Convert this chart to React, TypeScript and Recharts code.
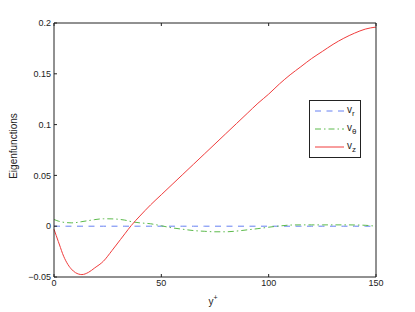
import React from "react";
import { LineChart, Line, XAxis, YAxis, Legend, Label } from "recharts";

// y+ positions
const yPlus = [
  0, 1, 2, 3, 4, 6, 8, 10, 13, 16, 19, 23, 27, 31, 33, 36, 40, 45, 50, 55, 60,
  65, 70, 75, 80, 85, 90, 95, 100, 105, 110, 115, 120, 125, 130, 135, 140, 145,
  150,
];

const vr = yPlus.map(() => 0);

const vtheta = [
  0.0066, 0.0058, 0.005, 0.0045, 0.004, 0.0035, 0.0033, 0.0035, 0.0045,
  0.0055, 0.0065, 0.0073, 0.0072, 0.0066, 0.006, 0.0045, 0.0033, 0.0024,
  0.0004, -0.0016, -0.003, -0.0043, -0.005, -0.0055, -0.0055, -0.0048,
  -0.0036, -0.0024, -0.001, 0.0002, 0.0011, 0.0013, 0.0013, 0.0013, 0.0013,
  0.0013, 0.0012, 0.0009, 0.0,
];

const vz = [
  -0.003, -0.009, -0.015, -0.021, -0.027, -0.036, -0.042, -0.0457, -0.0476,
  -0.0455, -0.041, -0.0345, -0.024, -0.013, -0.0075, 0.0007, 0.01, 0.021,
  0.031, 0.041, 0.051, 0.061, 0.071, 0.081, 0.091, 0.101, 0.111, 0.121, 0.13,
  0.14, 0.149, 0.157, 0.165, 0.172, 0.179, 0.185, 0.19, 0.194, 0.196,
];

const xTicks = [0, 50, 100, 150];
const yTicks = [-0.05, 0, 0.05, 0.1, 0.15, 0.2];

const data = yPlus.map((x, i) => ({ x, vr: vr[i], vtheta: vtheta[i], vz: vz[i] }));

const FONT = "'Liberation Sans', Arial, Helvetica, sans-serif";
const BLUE = "#6680f2";
const GREEN = "#5cba4c";
const RED = "#f03c3c";
const AXIS = "#222222";

const series = [
  { key: "vr", sub: "r", color: BLUE, dash: "6 5.5" },
  { key: "vtheta", sub: "θ", color: GREEN, dash: "6 3 1.5 3" },
  { key: "vz", sub: "z", color: RED, dash: undefined as string | undefined },
];

const fmtY = (v: number) => (v < 0 ? "\u2212" + String(-v) : String(v));

const LegendBox = () => (
  <svg width={53} height={59} style={{ display: "block" }}>
    <rect x={0.5} y={0.5} width={51} height={57} fill="#fff" stroke={AXIS} />
    {series.map((s, i) => {
      const y = 11 + i * 18;
      return (
        <g key={s.key}>
          <line x1={6} x2={35} y1={y} y2={y} stroke={s.color} strokeDasharray={s.dash} />
          <text x={38} y={y + 2} fontFamily={FONT} fontSize={10} fill="#222">
            v
            <tspan fontSize={8} dy={3}>
              {s.sub}
            </tspan>
          </text>
        </g>
      );
    })}
  </svg>
);

export default function App() {
  return (
    <div style={{ position: "absolute", left: 0, top: 0, background: "#fff" }}>
      <LineChart
        width={415}
        height={312}
        data={data}
        margin={{ top: 0, right: 0, bottom: 0, left: 0 }}
      >
        <XAxis
          xAxisId="b"
          dataKey="x"
          type="number"
          domain={[0, 150]}
          ticks={xTicks}
          height={35}
          tickSize={-3}
          tickMargin={6}
          stroke={AXIS}
          tick={{ fontSize: 9, fontFamily: FONT, fill: "#222" }}
        >
          <Label
            content={() => (
              <text x={213} y={305} textAnchor="middle" fontFamily={FONT} fontSize={10} fill="#222">
                y
                <tspan fontSize={7} dy={-5}>
                  +
                </tspan>
              </text>
            )}
          />
        </XAxis>
        <XAxis
          xAxisId="t"
          orientation="top"
          dataKey="x"
          type="number"
          domain={[0, 150]}
          ticks={xTicks}
          height={23}
          tickSize={-3}
          tickFormatter={() => ""}
          stroke={AXIS}
        />
        <YAxis
          yAxisId="l"
          type="number"
          domain={[-0.05, 0.2]}
          ticks={yTicks}
          width={54}
          tickSize={-3}
          tickMargin={6}
          tickFormatter={fmtY}
          stroke={AXIS}
          tick={{ fontSize: 9, fontFamily: FONT, fill: "#222" }}
        >
          <Label
            content={() => (
              <text
                x={17}
                y={146}
                transform="rotate(-90 17 146)"
                textAnchor="middle"
                fontFamily={FONT}
                fontSize={10}
                fill="#222"
              >
                Eigenfunctions
              </text>
            )}
          />
        </YAxis>
        <YAxis
          yAxisId="r"
          orientation="right"
          type="number"
          domain={[-0.05, 0.2]}
          ticks={yTicks}
          width={39}
          tickSize={-3}
          tickFormatter={() => ""}
          stroke={AXIS}
        />
        <Legend
          layout="vertical"
          align="center"
          verticalAlign="middle"
          wrapperStyle={{ left: 309, top: 100, width: 53, height: 59 }}
          content={() => <LegendBox />}
        />
        {series.map((s) => (
          <Line
            key={s.key}
            xAxisId="b"
            yAxisId="l"
            type="monotone"
            dataKey={s.key}
            stroke={s.color}
            strokeWidth={1}
            strokeDasharray={s.dash}
            dot={false}
            activeDot={false}
            isAnimationActive={false}
          />
        ))}
      </LineChart>
    </div>
  );
}
